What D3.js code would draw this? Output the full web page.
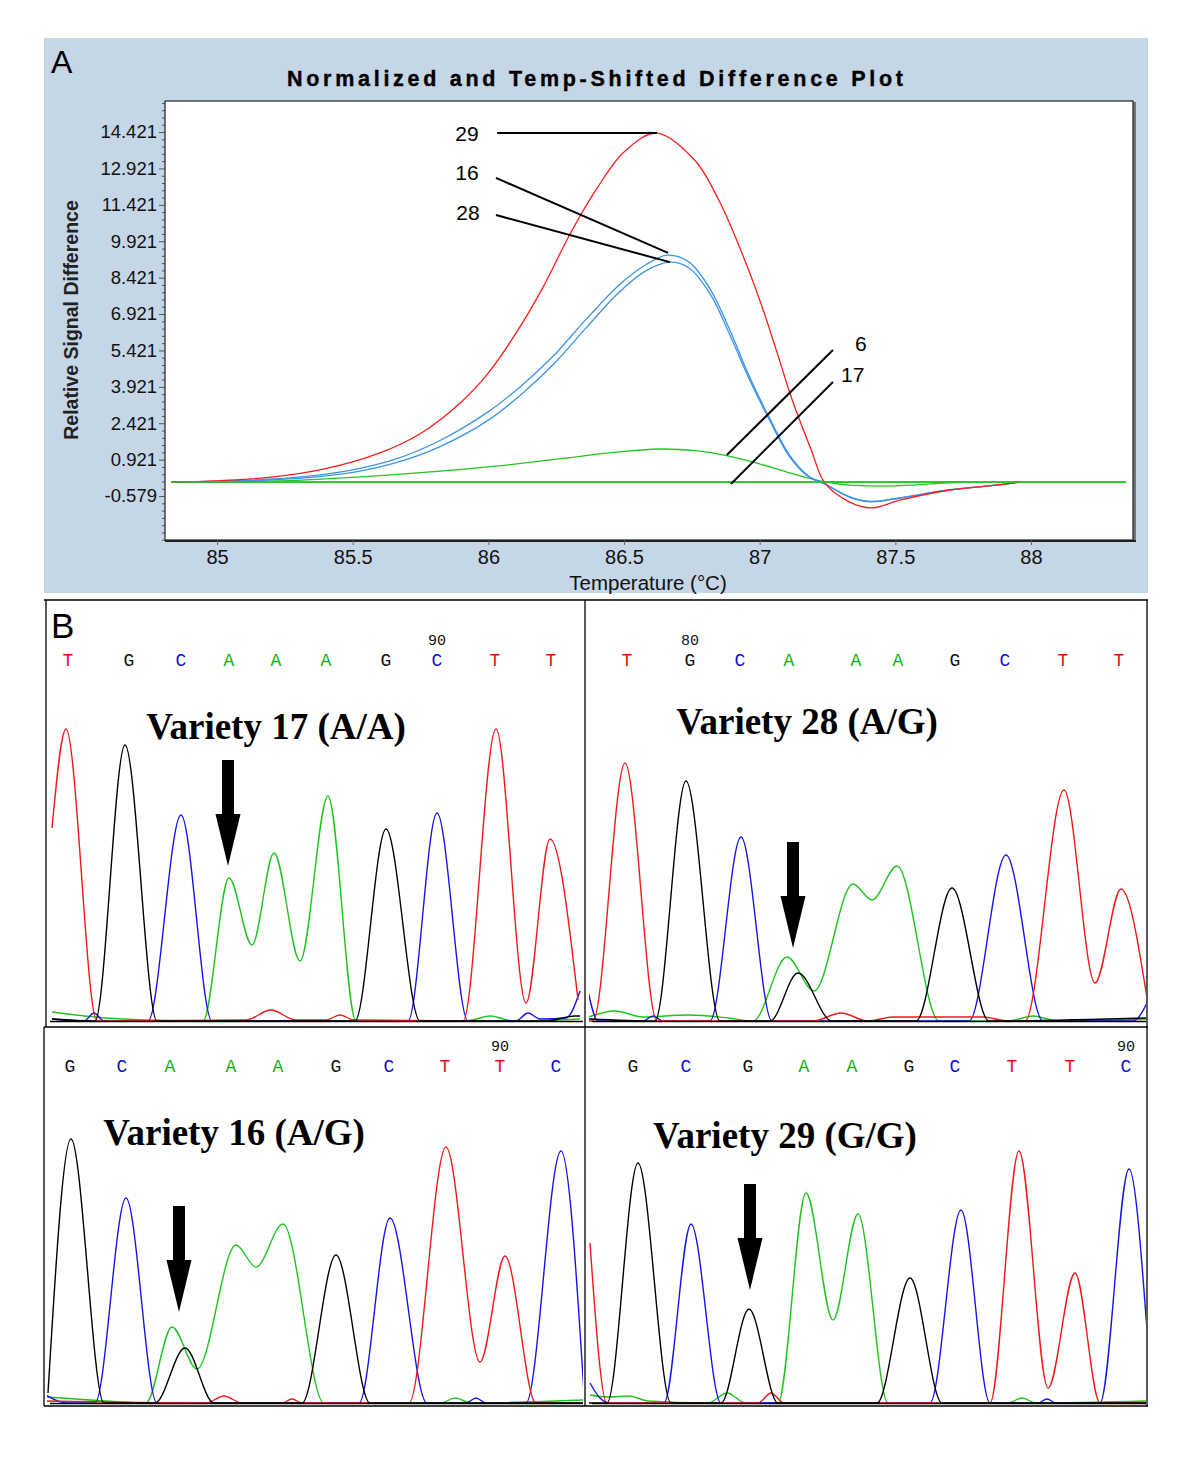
<!DOCTYPE html>
<html><head><meta charset="utf-8">
<script src="https://cdn.jsdelivr.net/npm/d3@7"></script>
<style>body{margin:0;background:#fff}svg{display:block}</style>
</head><body>
<svg id="fig" width="1200" height="1469"></svg>
<script>
// ---------------- Panel A data ----------------
const yTicksA = [-0.579, 0.921, 2.421, 3.921, 5.421, 6.921, 8.421, 9.921, 11.421, 12.921, 14.421];
const xTicksA = [85, 85.5, 86, 86.5, 87, 87.5, 88];

const red29T = [84.83, 85.0, 85.2, 85.4, 85.6, 85.75, 85.9, 86.0, 86.1, 86.2, 86.3, 86.4, 86.5, 86.62, 86.76, 86.85, 86.93, 87.0, 87.06, 87.12, 87.19, 87.24, 87.33, 87.41, 87.52, 87.70, 87.88, 87.96];
const red29V = [0, 0.05, 0.2, 0.55, 1.2, 2.0, 3.3, 4.5, 6.1, 8.0, 10.2, 12.1, 13.6, 14.38, 13.27, 11.6, 9.56, 7.5, 5.48, 3.38, 1.32, -0.04, -0.82, -1.07, -0.74, -0.33, -0.12, 0];

const blue16T = [84.83, 85.0, 85.3, 85.5, 85.66, 85.82, 86.0, 86.12, 86.24, 86.36, 86.48, 86.58, 86.66, 86.74, 86.82, 86.89, 86.96, 87.04, 87.11, 87.18, 87.24, 87.33, 87.41, 87.52, 87.70, 87.88, 87.96];
const blue16V = [0, 0.03, 0.2, 0.5, 0.95, 1.7, 2.9, 3.95, 5.2, 6.7, 8.1, 8.95, 9.35, 9.06, 7.9, 6.26, 4.4, 2.55, 1.11, 0.25, -0.08, -0.62, -0.82, -0.66, -0.33, -0.12, 0];

const blue28T = [84.83, 85.0, 85.3, 85.5, 85.66, 85.82, 86.0, 86.12, 86.24, 86.36, 86.48, 86.58, 86.67, 86.74, 86.82, 86.89, 86.96, 87.04, 87.11, 87.18, 87.24, 87.33, 87.41, 87.52, 87.70, 87.88, 87.96];
const blue28V = [0, 0.02, 0.15, 0.4, 0.8, 1.45, 2.55, 3.6, 4.85, 6.35, 7.8, 8.7, 9.06, 8.82, 7.7, 6.06, 4.28, 2.47, 1.05, 0.22, -0.08, -0.6, -0.8, -0.64, -0.32, -0.12, 0];

const green6T = [84.83, 85.0, 85.31, 85.64, 86.0, 86.26, 86.48, 86.63, 86.77, 86.87, 86.99, 87.10, 87.21, 87.32, 87.5, 87.63, 87.75];
const green6V = [0, 0, 0.08, 0.29, 0.62, 0.95, 1.24, 1.36, 1.28, 1.11, 0.78, 0.41, 0.08, -0.12, -0.16, -0.08, 0];

const green17T = [84.83, 88.35];
const green17V = [0, 0];

const annLabels = ["29", "16", "28", "6", "17"];
const annTextPos = [[85.921, 14.38], [85.921, 12.77], [85.925, 11.12], [87.373, 5.73], [87.343, 4.45]];
const annFrom = [[86.032, 14.38], [86.028, 12.53], [86.028, 11.0], [87.27, 5.44], [87.27, 4.12]];
const annTo = [[86.621, 14.38], [86.662, 9.44], [86.669, 9.06], [86.879, 1.11], [86.894, -0.08]];

// ---------------- Panel B data ----------------
const lettersTL = ["T","G","C","A","A","A","G","C","T","T"];
const letterScanTL = [22,83,135,183,230,280,340,391,449,505];
const lettersTR = ["T","G","C","A","A","A","G","C","T","T"];
const letterScanTR = [39,102,152,201,268,310,367,417,475,531];
const lettersBL = ["G","C","A","A","A","G","C","T","T","C"];
const letterScanBL = [24,76,124,185,232,290,343,399,454,510];
const lettersBR = ["G","C","G","A","A","G","C","T","T","C"];
const letterScanBR = [45,98,160,216,264,321,367,424,482,538];
const positionLabels = ["90","80","90","90"];
const positionIndex = [7,1,8,9];
const varietyTitles = ["Variety 17 (A/A)","Variety 28 (A/G)","Variety 16 (A/G)","Variety 29 (G/G)"];
const arrowScan = [182,205,133,162];
const arrowTip = [155,73,91,113];

// traces: [scan, signal]
const trTL_red   = [[6,193],[20,292],[51,0],[200,1],[225,11],[250,1],[280,1],[294,6],[308,1],[417,0],[450,292],[480,18],[504,182],[532,21]];
const trTL_black = [[6,2],[49,0],[79,276],[111,0],[309,0],[340,192],[374,0],[500,0],[529,5],[534,5]];
const trTL_blue  = [[6,2],[38,0],[48,8],[58,0],[102,0],[135,206],[166,0],[362,0],[391,208],[422,0],[470,0],[482,8],[494,2],[520,3],[534,30]];
const trTL_green = [[6,9],[30,6],[60,3],[100,1],[157,0],[183,143],[206,76],[228,168],[254,60],[282,225],[310,0],[420,0],[444,5],[468,0],[534,2]];

const trTR_red   = [[0,0],[5,0],[37,258],[69,0],[225,0],[253,8],[280,0],[305,4],[395,4],[420,0],[437,0],[476,231],[507,38],[533,132],[559,23]];
const trTR_black = [[0,2],[67,0],[98,240],[132,0],[182,0],[210,48],[244,0],[328,0],[364,133],[401,0],[559,3]];
const trTR_blue  = [[0,30],[10,0],[55,0],[65,5],[75,0],[122,0],[153,184],[184,0],[381,0],[418,166],[455,0],[545,0],[559,18]];
const trTR_green = [[0,4],[27,10],[55,4],[100,6],[140,3],[165,0],[199,64],[226,30],[265,137],[284,121],[309,155],[351,0],[420,0],[445,5],[470,0],[559,2]];

const trBL_red   = [[0,2],[160,0],[178,7],[196,0],[236,0],[246,4],[256,0],[363,0],[400,256],[434,41],[459,147],[490,0],[538,0]];
const trBL_black = [[2,10],[25,264],[58,0],[109,0],[139,55],[168,0],[256,0],[290,148],[324,0],[538,0]];
const trBL_blue  = [[0,8],[20,0],[49,0],[80,205],[111,0],[313,0],[344,185],[381,0],[420,0],[430,5],[440,0],[480,0],[515,252],[538,10]];
const trBL_green = [[0,6],[30,4],[60,2],[100,0],[126,76],[151,34],[190,158],[210,136],[237,179],[278,0],[395,0],[409,5],[425,0],[538,3]];

const trBR_red   = [[2,160],[19,0],[170,0],[183,10],[196,0],[402,0],[431,252],[460,15],[487,130],[512,0],[559,0]];
const trBR_black = [[0,0],[19,0],[50,240],[83,0],[133,0],[161,94],[190,0],[289,0],[322,125],[354,0],[559,0]];
const trBR_blue  = [[2,20],[12,5],[22,0],[76,0],[103,179],[133,0],[342,0],[373,193],[402,0],[450,0],[459,4],[468,0],[512,0],[541,234],[559,73]];
const trBR_green = [[2,8],[20,6],[41,7],[60,2],[120,0],[139,10],[158,0],[190,0],[218,210],[245,83],[270,189],[300,0],[420,0],[434,5],[448,0],[559,2]];

// ---------------- drawing ----------------
const svg = d3.select("#fig");
svg.append("rect").attr("width",1200).attr("height",1469).attr("fill","#fff");

// ---- Panel A ----
const SANS = "'Liberation Sans', Arial, sans-serif";
svg.append("rect").attr("x",44).attr("y",38).attr("width",1104).attr("height",555).attr("fill","#c5d6e6");
svg.append("text").attr("x",51).attr("y",73).attr("font-family",SANS).attr("font-size",32).attr("fill","#000").text("A");
svg.append("text").attr("x",287).attr("y",86).attr("font-family",SANS).attr("font-weight","bold")
  .attr("font-size",21.5).attr("textLength",616).attr("lengthAdjust","spacing").attr("fill","#000")
  .attr("stroke","#000").attr("stroke-width",0.4)
  .text("Normalized and Temp-Shifted Difference Plot");

const plot = {l:165, t:101, r:1133, b:540};
const xA = d3.scaleLinear().domain([84.808, 88.376]).range([plot.l, plot.r]);
const yA = d3.scaleLinear().domain([-2.39, 15.7]).range([plot.b, plot.t]);

svg.append("rect").attr("x",plot.l).attr("y",plot.t).attr("width",plot.r-plot.l).attr("height",plot.b-plot.t)
  .attr("fill","#fff");
svg.append("line").attr("x1",plot.r+1.5).attr("x2",plot.r+1.5).attr("y1",plot.t+1).attr("y2",plot.b+2).attr("stroke","#6d7680").attr("stroke-width",3);
svg.append("line").attr("x1",plot.l).attr("x2",plot.r+3).attr("y1",plot.b+1).attr("y2",plot.b+1).attr("stroke","#222").attr("stroke-width",2);

const minorY = d3.range(-2.379, 15.7, 0.3).filter(v => !yTicksA.some(t => Math.abs(t - v) < 0.01));
svg.append("g").attr("transform",`translate(${plot.l},0)`)
  .call(d3.axisLeft(yA).tickValues(minorY).tickSize(3).tickFormat(""))
  .call(g => g.select(".domain").remove())
  .selectAll("line").attr("stroke","#555");
const gy = svg.append("g").attr("transform",`translate(${plot.l},0)`)
  .call(d3.axisLeft(yA).tickValues(yTicksA).tickSize(6).tickPadding(2).tickFormat(d => d.toFixed(3)));
gy.select(".domain").remove();
gy.selectAll("line").attr("stroke","#555");
gy.selectAll("text").attr("font-family",SANS).attr("font-size",18.5).attr("fill","#111");

const gx = svg.append("g").attr("transform",`translate(0,${plot.b})`)
  .call(d3.axisBottom(xA).tickValues(xTicksA).tickSize(5).tickPadding(5).tickFormat(d => String(d)));
gx.select(".domain").remove();
gx.selectAll("line").attr("stroke","#666");
gx.selectAll("text").attr("font-family",SANS).attr("font-size",20).attr("fill","#111");

svg.append("text").attr("x",648).attr("y",590).attr("text-anchor","middle").attr("font-family",SANS)
  .attr("font-size",20.5).attr("fill","#111").text("Temperature (°C)");
svg.append("text").attr("transform","translate(78,320) rotate(-90)").attr("text-anchor","middle")
  .attr("font-family",SANS).attr("font-weight","bold").attr("font-size",19.5).attr("fill","#222")
  .text("Relative Signal Difference");

svg.append("clipPath").attr("id","clipA").append("rect")
  .attr("x",plot.l+1).attr("y",plot.t+1).attr("width",plot.r-plot.l-2).attr("height",plot.b-plot.t-2);
const lineA = d3.line().x(d => xA(d[0])).y(d => yA(d[1])).curve(d3.curveCatmullRom.alpha(0.5));
const seriesA = [
  {t: green17T, v: green17V, c: "#22c422"},
  {t: green6T, v: green6V, c: "#22c422"},
  {t: blue28T, v: blue28V, c: "#3d93e6"},
  {t: blue16T, v: blue16V, c: "#3d93e6"},
  {t: red29T, v: red29V, c: "#ff1c1c"}
];
const gA = svg.append("g").attr("clip-path","url(#clipA)");
seriesA.forEach(s => {
  gA.append("path").datum(s.t.map((t,i) => [t, s.v[i]])).attr("d", lineA)
    .attr("fill","none").attr("stroke", s.c).attr("stroke-width",1.3);
});
gA.append("path").datum(green17T.map((t,i)=>[t, green17V[i]])).attr("d",lineA)
  .attr("fill","none").attr("stroke","#22c422").attr("stroke-width",1.3);

svg.append("rect").attr("x",plot.l).attr("y",plot.t).attr("width",plot.r-plot.l).attr("height",plot.b-plot.t)
  .attr("fill","none").attr("stroke","#222").attr("stroke-width",1.2);

annLabels.forEach((lab,i) => {
  svg.append("line").attr("x1",xA(annFrom[i][0])).attr("y1",yA(annFrom[i][1]))
    .attr("x2",xA(annTo[i][0])).attr("y2",yA(annTo[i][1])).attr("stroke","#000").attr("stroke-width",2);
  svg.append("text").attr("x",xA(annTextPos[i][0])).attr("y",yA(annTextPos[i][1])).attr("dy","0.36em")
    .attr("text-anchor","middle").attr("font-family",SANS).attr("font-size",21).attr("fill","#000").text(lab);
});

// ---- Panel B ----
const SERIF = "'Liberation Serif','Times New Roman',serif";
const MONO = "'Liberation Mono','Courier New',monospace";
const panelsB = [
  {x0:46, x1:584, top:600, bottom:1027, base:1021, letterY:666, numY:645, titleX:276, titleY:739,
   letters:lettersTL, scans:letterScanTL, traces:{green:trTL_green, blue:trTL_blue, red:trTL_red, black:trTL_black}},
  {x0:588, x1:1147, top:600, bottom:1027, base:1021, letterY:666, numY:645, titleX:807, titleY:734,
   letters:lettersTR, scans:letterScanTR, traces:{green:trTR_green, blue:trTR_blue, red:trTR_red, black:trTR_black}},
  {x0:46, x1:584, top:1027, bottom:1405, base:1403, letterY:1072, numY:1051, titleX:234, titleY:1145,
   letters:lettersBL, scans:letterScanBL, traces:{green:trBL_green, blue:trBL_blue, red:trBL_red, black:trBL_black}},
  {x0:588, x1:1147, top:1027, bottom:1405, base:1403, letterY:1072, numY:1051, titleX:785, titleY:1148,
   letters:lettersBR, scans:letterScanBR, traces:{green:trBR_green, blue:trBR_blue, red:trBR_red, black:trBR_black}}
];
const traceColor = {red:"#f01818", green:"#1ec41e", blue:"#1515e6", black:"#000"};
const letterColor = {T:"#e01010", G:"#111", C:"#1010d0", A:"#10b010"};

const frame = svg.append("g").attr("stroke","#000").attr("stroke-width",1.3);
[[44,600,1148,600],[46,600,46,1027],[44,1027,44,1406],[585,600,585,1406],[1147,600,1147,1406],
 [44,1027,1148,1027]].forEach(l => frame.append("line").attr("x1",l[0]).attr("y1",l[1]).attr("x2",l[2]).attr("y2",l[3]));
svg.append("text").attr("x",51).attr("y",638).attr("font-family",SANS).attr("font-size",35).attr("fill","#000").text("B");

panelsB.forEach((p,pi) => {
  const xs = d3.scaleLinear().domain([0, p.x1 - p.x0]).range([p.x0, p.x1]);
  const ys = d3.scaleLinear().domain([0, 300]).range([p.base, p.base - 300]);
  const cid = "clipB" + pi;
  svg.append("clipPath").attr("id",cid).append("rect")
    .attr("x",p.x0+1).attr("y",p.top+2).attr("width",p.x1-p.x0-2).attr("height",p.base-p.top+2);
  const g = svg.append("g");
  p.letters.forEach((L,i) => {
    g.append("text").attr("x",xs(p.scans[i])).attr("y",p.letterY).attr("text-anchor","middle")
      .attr("font-family",MONO).attr("font-size",18).attr("fill",letterColor[L]).text(L);
  });
  g.append("text").attr("x",xs(p.scans[positionIndex[pi]])).attr("y",p.numY).attr("text-anchor","middle")
    .attr("font-family",MONO).attr("font-size",15).attr("fill","#111").text(positionLabels[pi]);
  const line = d3.line().x(d => xs(d[0])).y(d => ys(d[1])).curve(d3.curveMonotoneX);
  const gt = g.append("g").attr("clip-path",`url(#${cid})`);
  ["green","blue","red","black"].forEach(k => {
    gt.append("path").datum(p.traces[k]).attr("d",line).attr("fill","none")
      .attr("stroke",traceColor[k]).attr("stroke-width",1.4).attr("stroke-linejoin","round");
  });
  g.append("line").attr("x1",xs(4)).attr("x2",p.x1-1).attr("y1",ys(0)+0.5).attr("y2",ys(0)+0.5)
    .attr("stroke","#000").attr("stroke-width",1.6);
  g.append("text").attr("x",p.titleX).attr("y",p.titleY).attr("text-anchor","middle")
    .attr("font-family",SERIF).attr("font-weight","bold").attr("font-size",37).attr("fill","#000")
    .text(varietyTitles[pi]);
  const ax = xs(arrowScan[pi]), ay = ys(arrowTip[pi]);
  const path = d3.path();
  path.moveTo(ax, ay);
  path.lineTo(ax - 12.5, ay - 52);
  path.lineTo(ax - 6, ay - 52);
  path.lineTo(ax - 6, ay - 106);
  path.lineTo(ax + 6, ay - 106);
  path.lineTo(ax + 6, ay - 52);
  path.lineTo(ax + 12.5, ay - 52);
  path.closePath();
  g.append("path").attr("d", path.toString()).attr("fill","#000");
});
svg.append("line").attr("x1",44).attr("x2",1148).attr("y1",1406).attr("y2",1406).attr("stroke","#000").attr("stroke-width",1.3);
</script>
</body></html>
